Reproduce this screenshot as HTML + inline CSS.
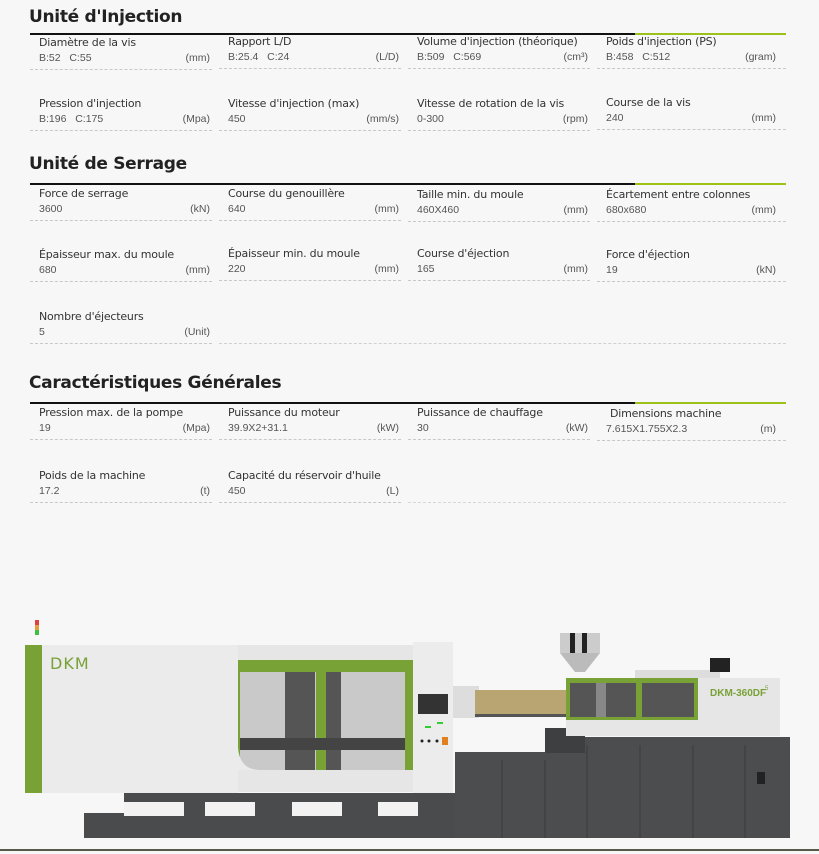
<!DOCTYPE html>
<html><head><meta charset="utf-8"><style>
body{margin:0;background:#f7f7f7;width:819px;height:854px;position:relative;overflow:hidden;font-family:"Liberation Sans",sans-serif}
.t{position:absolute;left:29px;font-size:17px;font-weight:bold;color:#222;font-family:"DejaVu Sans","Liberation Sans",sans-serif;letter-spacing:-0.3px}
.hl{position:absolute;left:30px;width:756px;height:2px;background:linear-gradient(90deg,#111 0,#111 80%,#9cc21a 80%,#9cc21a 100%)}
.c{position:absolute;width:182px;height:33px;border-bottom:1px dashed #c8c8c8}
.c .l{position:absolute;left:9px;top:0;font-size:11px;color:#333;font-family:"DejaVu Sans","Liberation Sans",sans-serif;letter-spacing:-0.2px;white-space:nowrap}
.c .v{position:absolute;left:9px;top:16px;font-size:10.5px;color:#555;white-space:nowrap}
.c .u{position:absolute;right:2px;top:16px;font-size:10.5px;color:#555}
</style></head><body>
<div class="t" style="top:7px">Unité d'Injection</div>
<div class="hl" style="top:33px"></div>
<div class="c" style="left:30px;top:36px"><span class="l">Diamètre de la vis</span><span class="v">B:52&nbsp;&nbsp; C:55</span><span class="u">(mm)</span></div>
<div class="c" style="left:219px;top:35px"><span class="l">Rapport L/D</span><span class="v">B:25.4&nbsp;&nbsp; C:24</span><span class="u">(L/D)</span></div>
<div class="c" style="left:408px;top:35px"><span class="l">Volume d'injection (théorique)</span><span class="v">B:509&nbsp;&nbsp; C:569</span><span class="u">(cm³)</span></div>
<div class="c" style="left:597px;top:35px;width:189px"><span class="l">Poids d'injection (PS)</span><span class="v">B:458&nbsp;&nbsp; C:512</span><span class="u" style="right:10px">(gram)</span></div>
<div class="c" style="left:30px;top:97px"><span class="l">Pression d'injection</span><span class="v">B:196&nbsp;&nbsp; C:175</span><span class="u">(Mpa)</span></div>
<div class="c" style="left:219px;top:97px"><span class="l">Vitesse d'injection (max)</span><span class="v">450</span><span class="u">(mm/s)</span></div>
<div class="c" style="left:408px;top:97px"><span class="l">Vitesse de rotation de la vis</span><span class="v">0-300</span><span class="u">(rpm)</span></div>
<div class="c" style="left:597px;top:96px;width:189px"><span class="l">Course de la vis</span><span class="v">240</span><span class="u" style="right:10px">(mm)</span></div>

<div class="t" style="top:154px">Unité de Serrage</div>
<div class="hl" style="top:183px"></div>
<div class="c" style="left:30px;top:187px"><span class="l">Force de serrage</span><span class="v">3600</span><span class="u">(kN)</span></div>
<div class="c" style="left:219px;top:187px"><span class="l">Course du genouillère</span><span class="v">640</span><span class="u">(mm)</span></div>
<div class="c" style="left:408px;top:188px"><span class="l">Taille min. du moule</span><span class="v">460X460</span><span class="u">(mm)</span></div>
<div class="c" style="left:597px;top:188px;width:189px"><span class="l">Écartement entre colonnes</span><span class="v">680x680</span><span class="u" style="right:10px">(mm)</span></div>
<div class="c" style="left:30px;top:248px"><span class="l">Épaisseur max. du moule</span><span class="v">680</span><span class="u">(mm)</span></div>
<div class="c" style="left:219px;top:247px"><span class="l">Épaisseur min. du moule</span><span class="v">220</span><span class="u">(mm)</span></div>
<div class="c" style="left:408px;top:247px"><span class="l">Course d'éjection</span><span class="v">165</span><span class="u">(mm)</span></div>
<div class="c" style="left:597px;top:248px;width:189px"><span class="l">Force d'éjection</span><span class="v">19</span><span class="u" style="right:10px">(kN)</span></div>
<div class="c" style="left:30px;top:310px"><span class="l">Nombre d'éjecteurs</span><span class="v">5</span><span class="u">(Unit)</span></div>
<div class="c" style="left:219px;top:310px;width:567px;border-bottom-color:#d0d0d0"></div>

<div class="t" style="top:373px">Caractéristiques Générales</div>
<div class="hl" style="top:402px"></div>
<div class="c" style="left:30px;top:406px"><span class="l">Pression max. de la pompe</span><span class="v">19</span><span class="u">(Mpa)</span></div>
<div class="c" style="left:219px;top:406px"><span class="l">Puissance du moteur</span><span class="v">39.9X2+31.1</span><span class="u">(kW)</span></div>
<div class="c" style="left:408px;top:406px"><span class="l">Puissance de chauffage</span><span class="v">30</span><span class="u">(kW)</span></div>
<div class="c" style="left:597px;top:407px;width:189px"><span class="l" style="left:13px">Dimensions machine</span><span class="v">7.615X1.755X2.3</span><span class="u" style="right:10px">(m)</span></div>
<div class="c" style="left:30px;top:469px"><span class="l">Poids de la machine</span><span class="v">17.2</span><span class="u">(t)</span></div>
<div class="c" style="left:219px;top:469px"><span class="l">Capacité du réservoir d'huile</span><span class="v">450</span><span class="u">(L)</span></div>
<div class="c" style="left:408px;top:469px;width:378px;border-bottom-color:#d8d8d8"></div>

<svg style="position:absolute;left:0;top:0" width="819" height="854">
<rect x="84" y="793" width="376" height="45" fill="#4a4b4d"/>
<rect x="124" y="802" width="60" height="14" fill="#f2f2f2"/>
<rect x="205" y="802" width="50" height="14" fill="#f2f2f2"/>
<rect x="292" y="802" width="50" height="14" fill="#f2f2f2"/>
<rect x="378" y="802" width="40" height="14" fill="#f2f2f2"/>
<rect x="84" y="793" width="40" height="20" fill="#f7f7f7"/>
<rect x="455" y="752" width="135" height="86" fill="#4c4d4f"/>
<rect x="545" y="737" width="245" height="101" fill="#4c4d4f"/>
<rect x="545" y="728" width="40" height="25" fill="#3e3f41"/>
<g stroke="#3a3b3d" stroke-width="1"><line x1="502" y1="760" x2="502" y2="838"/><line x1="545" y1="760" x2="545" y2="838"/><line x1="587" y1="745" x2="587" y2="838"/><line x1="640" y1="745" x2="640" y2="838"/><line x1="693" y1="745" x2="693" y2="838"/><line x1="745" y1="745" x2="745" y2="838"/></g>
<rect x="757" y="772" width="8" height="12" fill="#222"/>
<path d="M27 645 H238 V793 H27 Z" fill="#ebebeb"/>
<rect x="25" y="645" width="17" height="148" fill="#78a136"/>
<rect x="35" y="620" width="4" height="5" fill="#e04040"/><rect x="35" y="625" width="4" height="5" fill="#e0a040"/><rect x="35" y="630" width="4" height="5" fill="#40c040"/>
<text x="50" y="669" font-family="DejaVu Sans,sans-serif" font-size="16" fill="#78a136" letter-spacing="1">DKM</text>
<rect x="238" y="645" width="175" height="145" fill="#e6e6e6"/>
<rect x="238" y="660" width="175" height="115" fill="#78a136"/>
<rect x="240" y="672" width="165" height="100" fill="#c9c9c9"/>
<rect x="285" y="672" width="30" height="100" fill="#555"/>
<rect x="326" y="672" width="15" height="100" fill="#555"/>
<rect x="316" y="668" width="10" height="107" fill="#78a136"/>
<rect x="240" y="738" width="165" height="12" fill="#444"/>
<path d="M238 748 Q240 770 260 770 H238 Z" fill="#ebebeb"/>
<rect x="238" y="770" width="175" height="22" fill="#e6e6e6"/>
<rect x="413" y="642" width="40" height="151" fill="#ececec"/>
<rect x="418" y="694" width="30" height="20" fill="#333"/>
<rect x="425" y="726" width="6" height="2" fill="#3c3"/><rect x="437" y="722" width="6" height="2" fill="#3c3"/>
<circle cx="422" cy="741" r="1.5" fill="#222"/><circle cx="429" cy="741" r="1.5" fill="#222"/><circle cx="437" cy="741" r="1.5" fill="#222"/><rect x="442" y="737" width="6" height="8" fill="#e08020"/>
<rect x="453" y="686" width="26" height="32" fill="#ddd"/>
<rect x="475" y="690" width="92" height="26" fill="#b8a572"/>
<rect x="475" y="714" width="92" height="3" fill="#555"/>
<rect x="560" y="633" width="40" height="20" fill="#ccc"/>
<rect x="570" y="633" width="5" height="20" fill="#222"/><rect x="582" y="633" width="5" height="20" fill="#222"/>
<path d="M560 653 H600 L585 672 H575 Z" fill="#bbb"/>
<rect x="635" y="670" width="85" height="12" fill="#ddd"/>
<rect x="566" y="678" width="214" height="58" fill="#e6e6e6"/>
<rect x="566" y="678" width="132" height="42" fill="#78a136"/>
<rect x="570" y="683" width="124" height="34" fill="#555"/>
<rect x="596" y="683" width="10" height="34" fill="#888"/>
<rect x="636" y="680" width="6" height="40" fill="#78a136"/>
<rect x="710" y="658" width="20" height="14" fill="#222"/>
<text x="710" y="696" font-family="Liberation Sans,sans-serif" font-weight="bold" font-size="10" fill="#78a136">DKM-360DF</text>
<text x="765" y="690" font-size="6" fill="#78a136" font-family="Liberation Sans,sans-serif">5</text>
<rect x="0" y="849" width="819" height="2" fill="#555a4a"/>
</svg>
</body></html>
